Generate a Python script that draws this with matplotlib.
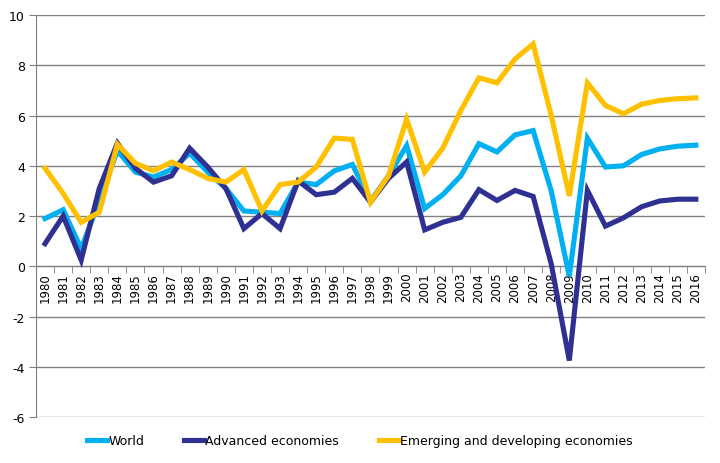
import matplotlib
matplotlib.use("Agg")
import matplotlib.pyplot as plt
import numpy as np

years = list(range(1980, 2017))

world = [1.9, 2.25, 0.7, 2.6, 4.6, 3.75, 3.55, 3.85, 4.5, 3.75, 3.1, 2.2, 2.15, 2.1, 3.35, 3.25, 3.8, 4.05,
         2.6, 3.6, 4.8, 2.3, 2.85, 3.6, 4.88, 4.55, 5.23, 5.4, 3.0, -0.4, 5.1, 3.95, 4.0, 4.45, 4.67, 4.78, 4.82]
advanced = [0.9, 2.0, 0.25, 3.1, 4.9, 3.9, 3.35, 3.6, 4.7, 3.95, 3.1, 1.5, 2.1, 1.5, 3.4, 2.85, 2.95, 3.5,
            2.55, 3.5, 4.15, 1.45, 1.75, 1.95, 3.05, 2.62, 3.02, 2.78, 0.1, -3.75, 3.02, 1.6, 1.93, 2.37, 2.6, 2.67, 2.67]
emerging = [3.9, 2.9, 1.75, 2.15, 4.85, 4.1, 3.8, 4.15, 3.85, 3.5, 3.35, 3.85, 2.2, 3.25, 3.35, 3.95, 5.1, 5.05,
            2.55, 3.6, 5.85, 3.75, 4.7, 6.2, 7.5, 7.3, 8.25, 8.85, 6.0, 2.8, 7.3, 6.4, 6.07, 6.45, 6.6, 6.67, 6.7]

plt.rcParams['font.family'] = ['DejaVu Sans']
plt.rcParams['axes.unicode_minus'] = False

fig = plt.figure(figsize=(7.2, 4.64), dpi=100)
ax = fig.add_axes([0.05, 0.099, 0.929, 0.8665])

x = np.arange(len(years))
ax.plot(x, world, color='#00B0F0', lw=3.7, label='World', zorder=3, solid_joinstyle='miter')
ax.plot(x, advanced, color='#2E3192', lw=3.7, label='Advanced economies', zorder=4, solid_joinstyle='miter')
ax.plot(x, emerging, color='#FFC000', lw=3.7, label='Emerging and developing economies', zorder=5,
        solid_joinstyle='miter')

ax.set_xlim(-0.5, len(years) - 0.5)
ax.set_ylim(-6, 10)
ax.set_yticks(range(-6, 11, 2))
ax.tick_params(axis='y', length=5, color='#808080', labelsize=9, pad=3)
ax.grid(axis='y', color='#808080', lw=1)
ax.set_axisbelow(True)

for s in ['top', 'right']:
    ax.spines[s].set_visible(False)
ax.spines['left'].set_color('#808080')
ax.spines['bottom'].set_color('#808080')
ax.spines['bottom'].set_position(('data', 0))

ax.set_xticks(x)
ax.set_xticklabels([str(y) for y in years], rotation=90, fontsize=8.5, va='top')
ax.tick_params(axis='x', which='major', length=0, pad=4)
ax.set_xticks(np.arange(-0.5, len(years), 1), minor=True)
ax.tick_params(axis='x', which='minor', length=5, color='#808080', direction='out')

fig.legend(loc='lower center', bbox_to_anchor=(0.5, 0.01), ncol=3, frameon=False, fontsize=9,
           handlelength=1.6, handletextpad=0.1, columnspacing=3.2)

fig.savefig('out.png', dpi=100)
